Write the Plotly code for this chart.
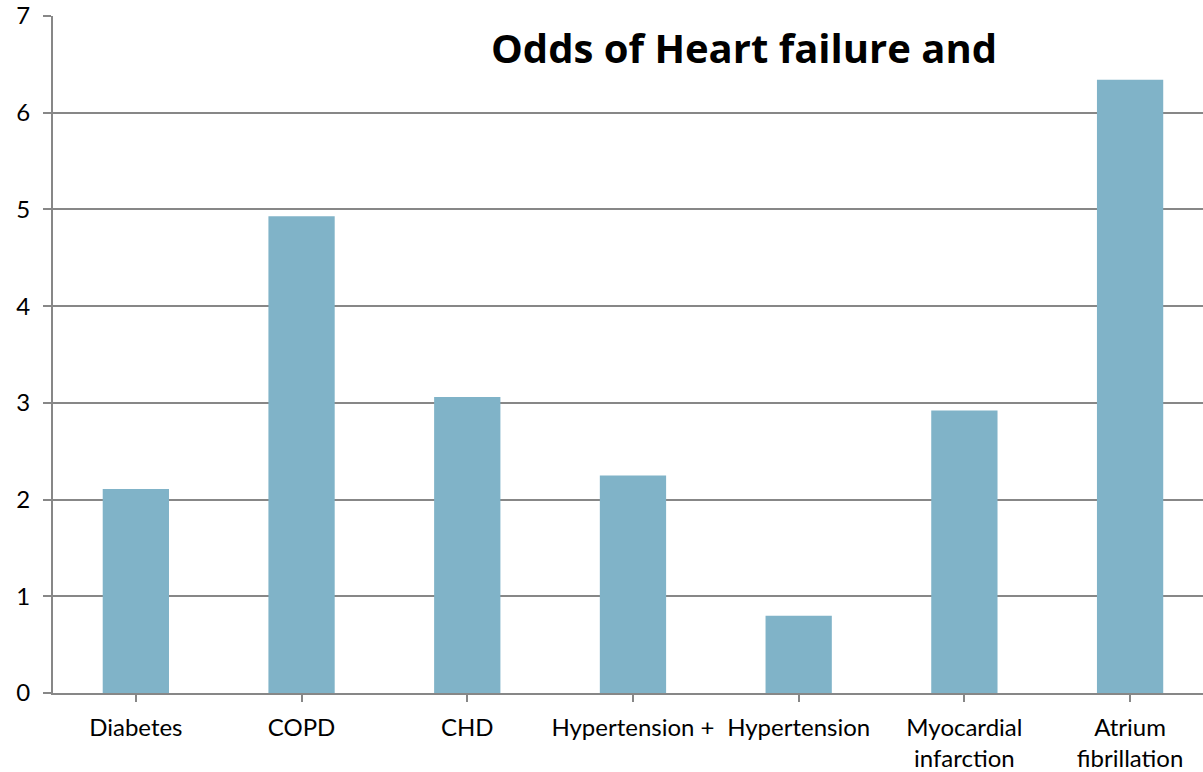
import plotly.graph_objects as go

categories = ["Diabetes", "COPD", "CHD", "Hypertension +", "Hypertension",
              "Myocardial<br>infarction", "Atrium<br>fibrillation"]
odds = [2.11, 4.93, 3.06, 2.25, 0.80, 2.92, 6.34]
y_ticks = [0, 1, 2, 3, 4, 5, 6, 7]
title_text = "Odds of Heart failure and"

bar_color = "#80B3C8"
grid_color = "#878787"
font_family = "Lato, 'Open Sans', sans-serif"

fig = go.Figure()
fig.add_trace(go.Bar(
    x=list(range(len(categories))), y=odds,
    marker=dict(color=bar_color, line=dict(width=0)),
    width=0.4,
))

fig.update_layout(
    width=1203, height=772,
    margin=dict(l=53, r=0, t=16, b=79, autoexpand=False),
    paper_bgcolor="white", plot_bgcolor="white",
    showlegend=False,
    font=dict(family=font_family, color="#000000", size=24),
    xaxis=dict(
        tickmode="array", tickvals=list(range(len(categories))), ticktext=categories,
        range=[-0.5, 6.44], tickson="boundaries",
        ticks="outside", ticklen=7, tickwidth=2, tickcolor=grid_color,
        showgrid=False, showline=True, linecolor=grid_color, linewidth=2,
        tickfont=dict(size=24), fixedrange=True, ticklabelstandoff=5,
        automargin=False,
    ),
    yaxis=dict(
        range=[0, 7], tickvals=y_ticks, ticktext=[str(v) for v in y_ticks],
        ticks="outside", ticklen=8, tickwidth=2, tickcolor=grid_color,
        showgrid=True, gridcolor=grid_color, gridwidth=2,
        showline=True, linecolor=grid_color, linewidth=2,
        zeroline=False, tickfont=dict(size=24), ticklabelstandoff=8,
        fixedrange=True, automargin=False,
    ),
    annotations=[dict(
        text="<b>" + title_text + "</b>", x=723 / 1203, y=(772 - 36) / 772,
        xref="paper", yref="paper", showarrow=False,
        font=dict(size=40, family="'Open Sans', sans-serif"),
        xanchor="center", yanchor="middle",
    )],
)
fig.write_html("out.html", config={"displayModeBar": False},
               post_script="document.body.style.margin='0';")
